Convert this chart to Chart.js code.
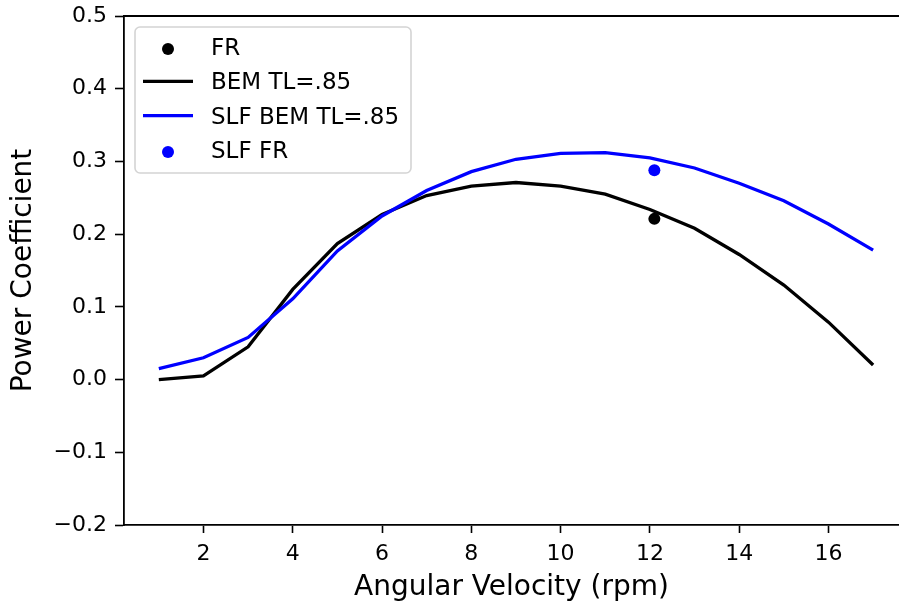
<!DOCTYPE html>
<html>
<head>
<meta charset="utf-8">
<script src="https://cdn.jsdelivr.net/npm/chart.js@4/dist/chart.umd.min.js"></script>
<style>
  html, body { margin: 0; padding: 0; background: #fff; overflow: hidden; }
  canvas { display: block; }
</style>
</head>
<body>
<canvas id="cp-chart" width="899" height="605"></canvas>
<script>
// rotor speed (rpm)
const rpm = [1, 2, 3, 4, 5, 6, 7, 8, 9, 10, 11, 12, 13, 14, 15, 16, 17];
// BEM with tip loss .85
const bemTL = [0.000, 0.005, 0.045, 0.124, 0.187, 0.227, 0.253, 0.266, 0.271, 0.266, 0.255, 0.234, 0.208, 0.172, 0.130, 0.079, 0.020];
// SLF BEM with tip loss .85
const slfBemTL = [0.015, 0.030, 0.058, 0.111, 0.177, 0.225, 0.260, 0.286, 0.303, 0.311, 0.312, 0.305, 0.291, 0.270, 0.246, 0.214, 0.178];
// free rotor points
const frRpm = [12.1];
const frCp = [0.221];
const slfFrRpm = [12.1];
const slfFrCp = [0.288];

const xTicks = [2, 4, 6, 8, 10, 12, 14, 16];
const yTicks = [-0.2, -0.1, 0.0, 0.1, 0.2, 0.3, 0.4, 0.5];
const yTickLabels = ['\u22120.2', '\u22120.1', '0.0', '0.1', '0.2', '0.3', '0.4', '0.5'];

const FONT = 'DejaVu Sans';

function pts(xs, ys) {
    return xs.map((x, i) => ({ x: x, y: ys[i] }));
}

// matplotlib style legend box inside the axes
const boxLegend = {
    id: 'boxLegend',
    afterDraw(chart) {
        const ctx = chart.ctx;
        const left = 135, top = 27, width = 276, height = 146, r = 5;
        ctx.save();
        ctx.beginPath();
        ctx.moveTo(left + r, top);
        ctx.arcTo(left + width, top, left + width, top + height, r);
        ctx.arcTo(left + width, top + height, left, top + height, r);
        ctx.arcTo(left, top + height, left, top, r);
        ctx.arcTo(left, top, left + width, top, r);
        ctx.closePath();
        ctx.fillStyle = 'rgba(255,255,255,0.8)';
        ctx.fill();
        ctx.strokeStyle = '#d4d4d4';
        ctx.lineWidth = 1.6;
        ctx.stroke();

        ctx.font = '23px "' + FONT + '"';
        ctx.textBaseline = 'alphabetic';
        ctx.textAlign = 'left';
        chart.data.datasets.forEach((ds, i) => {
            const cy = 47 + i * 34.3;
            if (ds.showLine) {
                ctx.beginPath();
                ctx.moveTo(143, cy);
                ctx.lineTo(193, cy);
                ctx.strokeStyle = ds.borderColor;
                ctx.lineWidth = ds.borderWidth;
                ctx.stroke();
            } else {
                ctx.beginPath();
                ctx.arc(168, cy + 2, ds.pointRadius, 0, Math.PI * 2);
                ctx.fillStyle = ds.backgroundColor;
                ctx.fill();
            }
            ctx.fillStyle = '#000';
            ctx.fillText(ds.label, 211, cy + 8);
        });
        ctx.restore();
    }
};

// top spine
const topSpine = {
    id: 'topSpine',
    afterDatasetsDraw(chart) {
        const { ctx, chartArea } = chart;
        ctx.save();
        ctx.beginPath();
        ctx.moveTo(chartArea.left, chartArea.top);
        ctx.lineTo(chartArea.right + 2, chartArea.top);
        ctx.strokeStyle = '#000';
        ctx.lineWidth = 1.8;
        ctx.stroke();
        ctx.restore();
    }
};

const ctx = document.getElementById('cp-chart').getContext('2d');
new Chart(ctx, {
    type: 'scatter',
    data: {
        datasets: [
            {
                label: 'FR',
                data: pts(frRpm, frCp),
                showLine: false,
                backgroundColor: '#000',
                borderColor: '#000',
                pointRadius: 6,
                pointBorderWidth: 0,
                order: 3
            },
            {
                label: 'BEM TL=.85',
                data: pts(rpm, bemTL),
                showLine: true,
                borderColor: '#000',
                backgroundColor: '#000',
                borderWidth: 3.3,
                pointRadius: 0,
                tension: 0,
                order: 2
            },
            {
                label: 'SLF BEM TL=.85',
                data: pts(rpm, slfBemTL),
                showLine: true,
                borderColor: '#0000ff',
                backgroundColor: '#0000ff',
                borderWidth: 3.3,
                pointRadius: 0,
                tension: 0,
                order: 1
            },
            {
                label: 'SLF FR',
                data: pts(slfFrRpm, slfFrCp),
                showLine: false,
                backgroundColor: '#0000ff',
                borderColor: '#0000ff',
                pointRadius: 6,
                pointBorderWidth: 0,
                order: 0
            }
        ]
    },
    options: {
        responsive: false,
        animation: false,
        devicePixelRatio: 1,
        layout: { autoPadding: false, padding: { top: 16, right: 0, bottom: 0, left: 0 } },
        plugins: {
            legend: { display: false },
            tooltip: { enabled: false }
        },
        scales: {
            x: {
                type: 'linear',
                min: 0.22,
                max: 17.58,
                afterBuildTicks: scale => { scale.ticks = xTicks.map(v => ({ value: v })); },
                afterFit: scale => {
                    scale.height = 80;
                    scale.paddingLeft = 0;
                    scale.paddingRight = 0;
                },
                border: { color: '#000', width: 1.8 },
                grid: { drawOnChartArea: false, drawTicks: true, tickLength: 8, tickColor: '#000', tickWidth: 1.6 },
                ticks: {
                    color: '#000',
                    padding: 8,
                    maxRotation: 0,
                    autoSkip: false,
                    font: { family: FONT, size: 22 },
                    callback: value => String(value)
                },
                title: {
                    display: true,
                    text: 'Angular Velocity (rpm)',
                    color: '#000',
                    font: { family: FONT, size: 28 },
                    padding: { top: 0, bottom: 0 }
                }
            },
            y: {
                type: 'linear',
                min: -0.2,
                max: 0.5,
                afterBuildTicks: scale => { scale.ticks = yTicks.map(v => ({ value: v })); },
                afterFit: scale => {
                    scale.width = 124;
                    scale.paddingTop = 0;
                    scale.paddingBottom = 0;
                },
                border: { color: '#000', width: 1.8 },
                grid: { drawOnChartArea: false, drawTicks: true, tickLength: 9, tickColor: '#000', tickWidth: 1.6 },
                ticks: {
                    color: '#000',
                    padding: 8,
                    autoSkip: false,
                    font: { family: FONT, size: 22 },
                    callback: value => {
                        const i = yTicks.findIndex(t => Math.abs(t - value) < 1e-9);
                        return i >= 0 ? yTickLabels[i] : '';
                    }
                },
                title: {
                    display: true,
                    text: 'Power Coefficient',
                    color: '#000',
                    font: { family: FONT, size: 28 },
                    padding: { top: 7, bottom: 0 }
                }
            }
        }
    },
    plugins: [topSpine, boxLegend]
});
</script>
</body>
</html>
